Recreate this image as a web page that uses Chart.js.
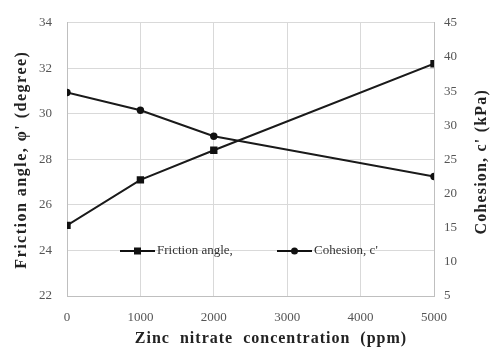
<!DOCTYPE html>
<html>
<head>
<meta charset="utf-8">
<script src="https://cdn.jsdelivr.net/npm/chart.js@4/dist/chart.umd.min.js"></script>
<style>
html,body{margin:0;padding:0;background:#fff;}
#wrap{width:491px;height:349px;position:relative;}
</style>
</head>
<body>
<div id="wrap"><canvas id="c" width="491" height="349"></canvas></div>
<script>
const concentrations = [0, 1000, 2000, 5000];
const frictionAngle = [25.1, 27.1, 28.4, 32.2];
const cohesion = [34.8, 32.2, 28.4, 22.5];
const seriesLabels = ["Friction angle,", "Cohesion, c'"];
const leftTitle = "Friction angle, \u03c6' (degree)";
const rightTitle = "Cohesion, c' (kPa)";
const xTitle = "Zinc  nitrate  concentration  (ppm)";

const SERIF = "'Liberation Serif', 'Times New Roman', serif";

function spacedText(ctx, text, x, y, rot, spacing) {
  ctx.save();
  ctx.translate(x, y);
  if (rot) ctx.rotate(rot);
  ctx.letterSpacing = spacing + 'px';
  const w = ctx.measureText(text).width - spacing;
  ctx.textAlign = 'left';
  ctx.textBaseline = 'middle';
  ctx.fillText(text, -w / 2, 0);
  ctx.restore();
}

const extras = {
  id: 'extras',
  afterDraw(chart) {
    const ctx = chart.ctx;
    const a = chart.chartArea;
    ctx.save();
    ctx.font = "bold 16px " + SERIF;
    ctx.fillStyle = '#222';
    spacedText(ctx, leftTitle, 22, (a.top + a.bottom) / 2 + 1, -Math.PI / 2, 1.5);
    spacedText(ctx, rightTitle, 482, (a.top + a.bottom) / 2 + 3, -Math.PI / 2, 1.2);
    spacedText(ctx, xTitle, (a.left + a.right) / 2 + 20, 339, 0, 1.0);
    ctx.restore();

    // legend inside the plot
    ctx.save();
    const y = 251;
    const items = [
      {x: 120, style: 'rect', label: seriesLabels[0]},
      {x: 277, style: 'circle', label: seriesLabels[1]}
    ];
    items.forEach(it => {
      ctx.strokeStyle = '#111';
      ctx.lineWidth = 2;
      ctx.beginPath();
      ctx.moveTo(it.x, y);
      ctx.lineTo(it.x + 35, y);
      ctx.stroke();
      ctx.fillStyle = '#111';
      const cx = it.x + 17.5;
      if (it.style === 'rect') {
        ctx.fillRect(cx - 3.5, y - 3.5, 7, 7);
      } else {
        ctx.beginPath();
        ctx.arc(cx, y, 3.5, 0, Math.PI * 2);
        ctx.fill();
      }
      ctx.font = "13px " + SERIF;
      ctx.fillStyle = '#333';
      ctx.textAlign = 'left';
      ctx.textBaseline = 'middle';
      ctx.fillText(it.label, it.x + 37, y);
    });
    ctx.restore();
  }
};

new Chart(document.getElementById('c'), {
  type: 'line',
  data: {
    datasets: [
      {
        label: seriesLabels[0],
        data: concentrations.map((x, i) => ({x: x, y: frictionAngle[i]})),
        yAxisID: 'y',
        borderColor: '#1a1a1a',
        backgroundColor: '#111',
        borderWidth: 2,
        pointStyle: 'rect',
        pointRadius: 5.2,
        pointBorderWidth: 0,
        tension: 0
      },
      {
        label: seriesLabels[1],
        data: concentrations.map((x, i) => ({x: x, y: cohesion[i]})),
        yAxisID: 'y1',
        borderColor: '#1a1a1a',
        backgroundColor: '#111',
        borderWidth: 2,
        pointStyle: 'circle',
        pointRadius: 3.7,
        pointBorderWidth: 0,
        tension: 0
      }
    ]
  },
  options: {
    responsive: false,
    animation: false,
    devicePixelRatio: 1,
    layout: {padding: {top: 22, left: 0, right: 0, bottom: 0}},
    plugins: {legend: {display: false}, tooltip: {enabled: false}},
    scales: {
      x: {
        type: 'linear',
        min: 0, max: 5000,
        ticks: {stepSize: 1000, color: '#555', font: {family: SERIF, size: 13}, padding: 14, maxRotation: 0,
                callback: v => String(v)},
        grid: {color: '#d9d9d9', drawTicks: false},
        border: {color: '#bfbfbf'},
        afterFit(s) { s.height = 53; }
      },
      y: {
        position: 'left',
        min: 22, max: 34,
        ticks: {stepSize: 2, color: '#555', font: {family: SERIF, size: 13}, padding: 15},
        grid: {color: '#d9d9d9', drawTicks: false},
        border: {color: '#bfbfbf'},
        afterFit(s) { s.width = 67; }
      },
      y1: {
        position: 'right',
        min: 5, max: 45,
        ticks: {stepSize: 5, color: '#555', font: {family: SERIF, size: 13}, padding: 10},
        grid: {display: false, drawTicks: false},
        border: {color: '#bfbfbf'},
        afterFit(s) { s.width = 57; }
      }
    }
  },
  plugins: [extras]
});
</script>
</body>
</html>
